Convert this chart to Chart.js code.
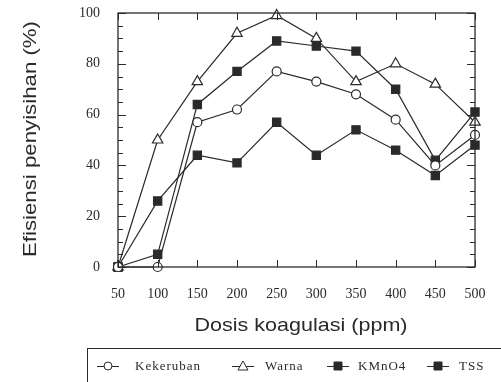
<!DOCTYPE html>
<html>
<head>
<meta charset="utf-8">
<script src="https://cdn.jsdelivr.net/npm/chart.js@4.4.1/dist/chart.umd.min.js"></script>
<style>
  html, body { margin: 0; padding: 0; background: #fff; }
  #wrap { width: 501px; height: 382px; }
</style>
</head>
<body>
<div id="wrap"><canvas id="chart" width="501" height="382"></canvas></div>
<script>
// dosis koagulasi (ppm)
const dosis = [50, 100, 150, 200, 250, 300, 350, 400, 450, 500];
const kekeruban = [0, 0, 57, 62, 77, 73, 68, 58, 40, 52];
const warna = [0, 50, 73, 92, 99, 90, 73, 80, 72, 57];
const kmno4 = [0, 5, 64, 77, 89, 87, 85, 70, 42, 61];
const tss = [0, 26, 44, 41, 57, 44, 54, 46, 36, 48];
const yTicks = [0, 20, 40, 60, 80, 100];

const ink = '#2a2a2a';
const toXY = arr => dosis.map((d, i) => ({ x: d, y: arr[i] }));

// text stretched to a given width (the scan is wider than the fonts)
function wideText(ctx, text, cx, cy, w) {
  const m = ctx.measureText(text).width;
  ctx.save();
  ctx.translate(cx, cy);
  ctx.scale(w / m, 1);
  ctx.fillText(text, 0, 0);
  ctx.restore();
}

// frame, inward ticks, axis titles and the boxed legend
const decor = {
  id: 'decor',
  afterDraw(chart) {
    const { ctx, chartArea: a, scales } = chart;
    const x = scales.x, y = scales.y;
    ctx.save();
    ctx.strokeStyle = ink;
    ctx.lineWidth = 1.3;
    ctx.strokeRect(a.left, a.top, a.right - a.left, a.bottom - a.top);
    ctx.lineWidth = 1;
    ctx.beginPath();
    for (let v = 0; v <= 100; v += 5) {
      const py = Math.round(y.getPixelForValue(v)) + 0.5;
      const len = v % 20 === 0 ? 8 : 5;
      ctx.moveTo(a.left, py); ctx.lineTo(a.left + len, py);
      ctx.moveTo(a.right, py); ctx.lineTo(a.right - len, py);
    }
    dosis.forEach(d => {
      const px = Math.round(x.getPixelForValue(d)) + 0.5;
      ctx.moveTo(px, a.bottom); ctx.lineTo(px, a.bottom - 7);
      ctx.moveTo(px, a.top); ctx.lineTo(px, a.top + 7);
    });
    ctx.stroke();

    // axis titles
    ctx.fillStyle = ink;
    ctx.font = '19px "Liberation Sans", Arial, sans-serif';
    ctx.textAlign = 'center';
    ctx.textBaseline = 'middle';
    wideText(ctx, 'Dosis koagulasi (ppm)', 301, 326, 213);
    ctx.save();
    ctx.translate(31, 139);
    ctx.rotate(-Math.PI / 2);
    wideText(ctx, 'Efisiensi penyisihan (%)', 0, 0, 236);
    ctx.restore();

    // legend box
    ctx.lineWidth = 1;
    ctx.strokeRect(87.5, 348.5, 430, 60);
    ctx.font = '13px "Liberation Serif", "Times New Roman", serif';
    ctx.letterSpacing = '1px';
    ctx.textAlign = 'left';
    const items = [[97, 135], [232, 265], [327, 358], [427, 459]];
    chart.data.datasets.forEach((ds, i) => {
      const [lx, tx] = items[i];
      const cy = 366;
      ctx.beginPath();
      ctx.moveTo(lx, cy + 0.5); ctx.lineTo(lx + 22, cy + 0.5);
      ctx.strokeStyle = ink;
      ctx.stroke();
      const mx = lx + 11;
      ctx.beginPath();
      if (ds.pointStyle === 'circle') {
        ctx.arc(mx, cy, 4, 0, Math.PI * 2);
      } else if (ds.pointStyle === 'triangle') {
        ctx.moveTo(mx, cy - 5); ctx.lineTo(mx + 5, cy + 4); ctx.lineTo(mx - 5, cy + 4); ctx.closePath();
      } else {
        ctx.rect(mx - 4, cy - 4, 8, 8);
      }
      ctx.fillStyle = ds.pointBackgroundColor;
      ctx.fill();
      ctx.stroke();
      ctx.fillStyle = ink;
      ctx.fillText(ds.label, tx, cy + 1);
    });
    ctx.restore();
  }
};

const mk = (label, arr, style, fill, r) => ({
  label,
  data: toXY(arr),
  borderColor: ink,
  borderWidth: 1.2,
  pointStyle: style,
  pointRadius: r,
  pointBackgroundColor: fill,
  pointBorderColor: ink,
  pointBorderWidth: 1.2,
  tension: 0,
  fill: false
});

new Chart(document.getElementById('chart').getContext('2d'), {
  type: 'line',
  data: {
    datasets: [
      mk('Kekeruban', kekeruban, 'circle', '#fff', 4.5),
      mk('Warna', warna, 'triangle', '#fff', 6),
      mk('KMnO4', kmno4, 'rect', ink, 5.8),
      mk('TSS', tss, 'rect', ink, 5.8)
    ]
  },
  options: {
    responsive: false,
    animation: false,
    clip: false,
    layout: { padding: { left: 0, right: 26, top: 13, bottom: 0 } },
    plugins: { legend: { display: false }, tooltip: { enabled: false } },
    scales: {
      x: {
        type: 'linear',
        min: 50,
        max: 500,
        afterBuildTicks: s => { s.ticks = dosis.map(v => ({ value: v })); },
        afterFit: s => { s.height = 115; s.paddingLeft = 0; s.paddingRight = 0; },
        grid: { display: false, drawTicks: false },
        border: { display: false },
        ticks: {
          padding: 19,
          color: ink,
          font: { family: '"Liberation Serif", "Times New Roman", serif', size: 14 }
        }
      },
      y: {
        min: 0,
        max: 100,
        afterBuildTicks: s => { s.ticks = yTicks.map(v => ({ value: v })); },
        afterFit: s => { s.width = 118; s.paddingTop = 0; s.paddingBottom = 0; },
        grid: { display: false, drawTicks: false },
        border: { display: false },
        ticks: {
          padding: 18,
          color: ink,
          font: { family: '"Liberation Serif", "Times New Roman", serif', size: 14 }
        }
      }
    }
  },
  plugins: [decor]
});
</script>
</body>
</html>
